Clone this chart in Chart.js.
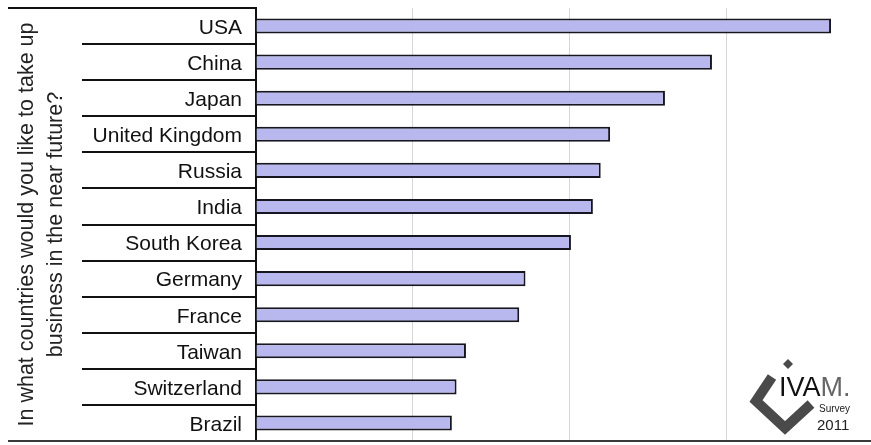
<!DOCTYPE html>
<html>
<head>
<meta charset="utf-8">
<script src="https://cdn.jsdelivr.net/npm/chart.js@4/dist/chart.umd.min.js"></script>
<style>
  html, body { margin: 0; padding: 0; background: #fff; }
  .wrap { width: 871px; height: 445px; position: relative; }
</style>
</head>
<body>
<div class="wrap"><canvas id="chart"></canvas></div>
<script>
// survey answers (one grid step = 10)
const countries = ["USA", "China", "Japan", "United Kingdom", "Russia", "India",
  "South Korea", "Germany", "France", "Taiwan", "Switzerland", "Brazil"];
const answers = [36.7, 29.1, 26.1, 22.6, 22.0, 21.5, 20.1, 17.2, 16.8, 13.4, 12.8, 12.5];
const gridStep = 10;
const axisMax = 39.25;
const question = ["In what countries would you like to take up", "business in the near future?"];

const fontName = "'Liberation Sans', Arial, sans-serif";

// frame lines + the IVAM logo in the corner
const frame = {
  id: "frame",
  afterDraw(chart) {
    const { ctx, chartArea } = chart;
    ctx.save();
    ctx.strokeStyle = "#111";
    ctx.lineWidth = 2;
    ctx.beginPath();
    ctx.moveTo(8, chartArea.top);
    ctx.lineTo(chartArea.left, chartArea.top);
    ctx.stroke();
    ctx.strokeStyle = "#3a3a3a";
    ctx.beginPath();
    ctx.moveTo(8, chartArea.bottom);
    ctx.lineTo(chart.width, chartArea.bottom);
    ctx.stroke();

    // logo
    ctx.strokeStyle = "#4a4a4a";
    ctx.lineWidth = 10;
    ctx.lineJoin = "miter";
    ctx.beginPath();
    ctx.moveTo(772, 377);
    ctx.lineTo(756, 401);
    ctx.lineTo(785, 428);
    ctx.lineTo(811, 404);
    ctx.stroke();
    ctx.fillStyle = "#4a4a4a";
    ctx.beginPath();
    ctx.moveTo(788, 359);
    ctx.lineTo(793, 364);
    ctx.lineTo(788, 369);
    ctx.lineTo(783, 364);
    ctx.closePath();
    ctx.fill();

    ctx.textBaseline = "alphabetic";
    ctx.font = "27px " + fontName;
    ctx.fillStyle = "#111";
    ctx.fillText("IVA", 779, 396);
    const w = ctx.measureText("IVA").width;
    ctx.fillStyle = "#666";
    ctx.fillText("M.", 779 + w, 396);
    ctx.fillStyle = "#222";
    ctx.font = "10px " + fontName;
    ctx.fillText("Survey", 819, 412);
    ctx.font = "15px " + fontName;
    ctx.fillText("2011", 817, 430);
    ctx.restore();
  }
};

new Chart(document.getElementById("chart"), {
  type: "bar",
  data: {
    labels: countries,
    datasets: [{
      data: answers,
      backgroundColor: "#b8b8ee",
      borderColor: "#161620",
      borderWidth: 2,
      borderSkipped: "start",
      barPercentage: 0.42,
      categoryPercentage: 1
    }]
  },
  options: {
    indexAxis: "y",
    responsive: true,
    maintainAspectRatio: false,
    animation: false,
    layout: { padding: { left: 8, top: 8, right: 0, bottom: 4 } },
    plugins: {
      legend: { display: false },
      tooltip: { enabled: false }
    },
    scales: {
      x: {
        min: 0,
        max: axisMax,
        ticks: { display: false, stepSize: gridStep },
        border: { display: false },
        grid: {
          drawTicks: false,
          lineWidth: 1,
          color: (c) => (c.tick && c.tick.value > 0 && c.tick.value % gridStep === 0) ? "#d6d6d6" : "rgba(0,0,0,0)"
        }
      },
      y: {
        afterFit: (scale) => { scale.width = 248; },
        border: { display: true, color: "#111", width: 2 },
        grid: {
          drawOnChartArea: false,
          drawTicks: true,
          tickLength: 174,
          color: "#111",
          lineWidth: 2
        },
        ticks: {
          padding: -160,
          labelOffset: 2,
          color: "#111",
          font: { family: fontName, size: 21 }
        },
        title: {
          display: true,
          text: question,
          color: "#222",
          padding: { top: 4, bottom: 0 },
          font: { family: fontName, size: 21.5, lineHeight: 1.36 }
        }
      }
    }
  },
  plugins: [frame]
});
</script>
</body>
</html>
